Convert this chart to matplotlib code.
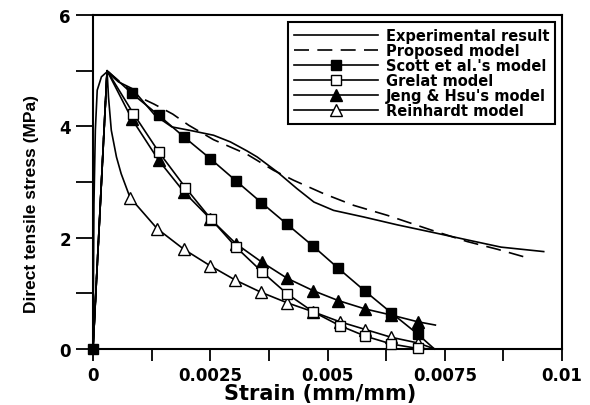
import matplotlib
matplotlib.use("Agg")
import matplotlib.pyplot as plt
from matplotlib.ticker import FixedLocator, FixedFormatter

# ---------------- data ----------------
exp_strain = [0, 0.00002, 0.00005, 0.00009, 0.00018, 0.0003, 0.00054, 0.00083,
              0.00132, 0.00168, 0.00211, 0.00257, 0.00293, 0.00328, 0.0035,
              0.00393, 0.00435, 0.00471, 0.00513, 0.00578, 0.00649, 0.00727,
              0.00798, 0.0087, 0.00961]
exp_stress = [0, 2.6, 3.93, 4.65, 4.89, 4.98, 4.80, 4.68,
              4.20, 3.99, 3.92, 3.84, 3.72, 3.56, 3.45,
              3.18, 2.88, 2.64, 2.49, 2.37, 2.23, 2.09,
              1.96, 1.83, 1.75]

prop_strain = [0, 0.0003, 0.0006, 0.001, 0.0013, 0.0017, 0.00204, 0.00257,
               0.00328, 0.00385, 0.00428, 0.00492, 0.00556, 0.00628, 0.0072,
               0.00798, 0.00863, 0.00934]
prop_stress = [0, 5.0, 4.78, 4.52, 4.40, 4.22, 4.02, 3.76,
               3.50, 3.21, 3.03, 2.79, 2.58, 2.40, 2.14,
               1.93, 1.79, 1.62]

scott_strain = [0, 0.0003, 0.00083, 0.0014, 0.00194, 0.0025, 0.00305, 0.00359,
                0.00414, 0.00469, 0.00523, 0.0058, 0.00636, 0.00692, 0.00728]
scott_stress = [0, 5.0, 4.59, 4.20, 3.81, 3.42, 3.02, 2.63,
                2.24, 1.85, 1.45, 1.04, 0.65, 0.27, 0.0]

grelat_strain = [0, 0.0003, 0.00086, 0.00141, 0.00197, 0.00251, 0.00305, 0.0036,
                 0.00414, 0.00469, 0.00526, 0.00581, 0.00636, 0.00692, 0.00729]
grelat_stress = [0, 5.0, 4.23, 3.53, 2.90, 2.34, 1.83, 1.39,
                 0.99, 0.67, 0.42, 0.23, 0.09, 0.01, 0.0]

jeng_strain = [0, 0.0003, 0.00083, 0.0014, 0.00194, 0.0025, 0.00305, 0.0036,
               0.00414, 0.00469, 0.00523, 0.0058, 0.00636, 0.00692, 0.0073]
jeng_stress = [0, 5.0, 4.13, 3.39, 2.82, 2.34, 1.89, 1.56,
               1.27, 1.05, 0.87, 0.72, 0.61, 0.49, 0.43]

rein_strain = [0, 0.0003, 0.00033, 0.00039, 0.0005, 0.0006, 0.00079, 0.00137,
               0.00194, 0.00249, 0.00303, 0.00358, 0.00414, 0.00469, 0.00526,
               0.00581, 0.00636, 0.00692, 0.00729]
rein_stress = [0, 5.0, 4.53, 3.93, 3.45, 3.15, 2.72, 2.16,
               1.79, 1.50, 1.24, 1.02, 0.83, 0.67, 0.49,
               0.35, 0.21, 0.11, 0.0]

labels = ["Experimental result", "Proposed model", "Scott et al.'s model",
          "Grelat model", "Jeng & Hsu's model", "Reinhardt model"]

x_ticks = [0, 0.00125, 0.0025, 0.00375, 0.005, 0.00625, 0.0075, 0.00875, 0.01]
x_ticklabels = ["0", "", "0.0025", "", "0.005", "", "0.0075", "", "0.01"]
y_ticks = [0, 1, 2, 3, 4, 5, 6]
y_ticklabels = ["0", "", "2", "", "4", "", "6"]

# ---------------- figure ----------------
W, H = 590, 406
fig = plt.figure(figsize=(W / 100, H / 100), dpi=100)
ax = fig.add_axes([93 / W, 1 - 350 / H, 469 / W, 334 / H])

FONT = "DejaVu Sans"
lw = 1.2
ms = 8

h_rein, = ax.plot(rein_strain, rein_stress, color="black", lw=lw, marker="^",
                  ms=ms, mfc="white", mec="black", mew=1.0, clip_on=False,
                  markevery=list(range(6, len(rein_strain) - 1)))
h_jeng, = ax.plot(jeng_strain, jeng_stress, color="black", lw=lw, marker="^",
                  ms=ms, mfc="black", mec="black", clip_on=False,
                  markevery=list(range(2, len(jeng_strain) - 1)))
h_grel, = ax.plot(grelat_strain, grelat_stress, color="black", lw=lw, marker="s",
                  ms=7.5, mfc="white", mec="black", mew=1.0, clip_on=False,
                  markevery=list(range(2, len(grelat_strain) - 1)))
h_scott, = ax.plot(scott_strain, scott_stress, color="black", lw=lw, marker="s",
                   ms=7.5, mfc="black", mec="black", clip_on=False,
                   markevery=[0] + list(range(2, len(scott_strain) - 1)))
h_prop, = ax.plot(prop_strain, prop_stress, color="black", lw=lw,
                  linestyle=(0, (9, 5)))
h_exp, = ax.plot(exp_strain, exp_stress, color="black", lw=lw)

ax.set_xlim(0, 0.01)
ax.set_ylim(0, 6)

ax.xaxis.set_major_locator(FixedLocator(x_ticks))
ax.xaxis.set_major_formatter(FixedFormatter(x_ticklabels))
ax.yaxis.set_major_locator(FixedLocator(y_ticks))
ax.yaxis.set_major_formatter(FixedFormatter(y_ticklabels))

ax.tick_params(axis="x", direction="out", length=8.5, width=1.3, pad=4,
               labelsize=12, colors="black")
ax.tick_params(axis="y", direction="out", length=12, width=1.3, pad=4,
               labelsize=12, colors="black")
for lab in ax.get_xticklabels() + ax.get_yticklabels():
    lab.set_fontweight("bold")
    lab.set_family(FONT)

for sp in ax.spines.values():
    sp.set_linewidth(1.5)
    sp.set_color("black")
    sp.set_zorder(1)

ax.set_xlabel("Strain (mm/mm)", fontsize=15, fontweight="bold", family=FONT)
ax.xaxis.set_label_coords((320 - 93) / 469, (350 - 384) / 334)
ax.set_ylabel("Direct tensile stress (MPa)", fontsize=12.5, fontweight="bold",
              family="Liberation Sans")
ax.yaxis.set_label_coords((39 - 93) / 469, (350 - 204) / 334)

leg = ax.legend([h_exp, h_prop, h_scott, h_grel, h_jeng, h_rein], labels,
                loc="upper right",
                bbox_to_anchor=((555 - 93) / 469, (350 - 23) / 334),
                prop={"family": FONT, "weight": "bold", "size": 10.5},
                handlelength=5.8, handletextpad=0.5, labelspacing=0.0,
                borderpad=0.4, borderaxespad=0, frameon=True, fancybox=False,
                framealpha=1, edgecolor="black")
leg.get_frame().set_linewidth(1.5)
leg.set_zorder(5)

fig.savefig("out.png", dpi=100)
